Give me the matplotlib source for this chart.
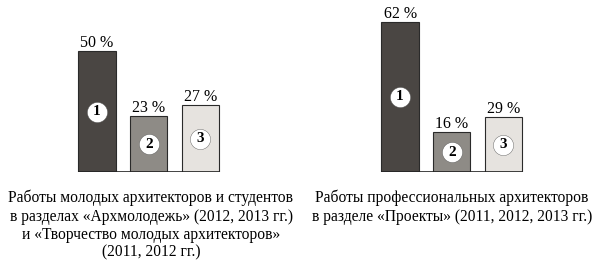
import matplotlib
matplotlib.use("Agg")
import matplotlib.pyplot as plt

plt.rcParams['font.family'] = ['Liberation Serif', 'DejaVu Serif']

categories = ["1", "2", "3"]
left_labels = [50, 23, 27]
left_heights = [50, 23, 27.5]
right_labels = [62, 16, 29]
right_heights = [62, 16.5, 22.7]  # bar heights as drawn in the reference
colors = ["#4a4643", "#8e8b86", "#e6e3df"]
left_caption = ("Работы молодых архитекторов и студентов\n"
                "в разделах «Архмолодежь» (2012, 2013 гг.)\n"
                "и «Творчество молодых архитекторов»\n"
                "(2011, 2012 гг.)")
right_caption = ("Работы профессиональных архитекторов\n"
                 "в разделе «Проекты» (2011, 2012, 2013 гг.)")

W, H = 598, 279
fig = plt.figure(figsize=(W / 100, H / 100), dpi=100)

def draw(ax, heights, labels):
    x = list(range(len(categories)))
    w = 0.72
    ax.bar(x, heights, width=w, color=colors, edgecolor="#2a2a2a", linewidth=0.8, zorder=2)
    ax.plot([x[0] - w / 2, x[-1] + w / 2], [0, 0], color="#222222", lw=1.2, zorder=3,
            solid_capstyle="butt")
    for xi, h, lab, c in zip(x, heights, labels, categories):
        ax.text(xi, h + 0.1, f"{lab} %", ha="center", va="bottom", fontsize=11.5)
        ax.scatter([xi], [h / 2], s=210, color="white", edgecolor="#555555",
                   linewidth=0.3, zorder=4)
        ax.text(xi, h / 2, c, ha="center", va="center", fontsize=11,
                fontweight="bold", zorder=5)
    ax.set_xlim(-0.5, 2.5)
    ax.set_ylim(0, 70)
    ax.axis("off")

ax_h = 169.4 / H
ax_b = (H - 172) / H
axL = fig.add_axes([71.25 / W, ax_b, 155 / W, ax_h])
draw(axL, left_heights, left_labels)
axR = fig.add_axes([374.25 / W, ax_b, 155 / W, ax_h])
draw(axR, right_heights, right_labels)

fig.text(151 / W, 1 - 190 / H, left_caption, ha="center", va="top", fontsize=11.2,
         linespacing=1.17)
fig.text(452 / W, 1 - 190 / H, right_caption, ha="center", va="top", fontsize=11.2,
         linespacing=1.17)

fig.savefig("out.png", dpi=100)
